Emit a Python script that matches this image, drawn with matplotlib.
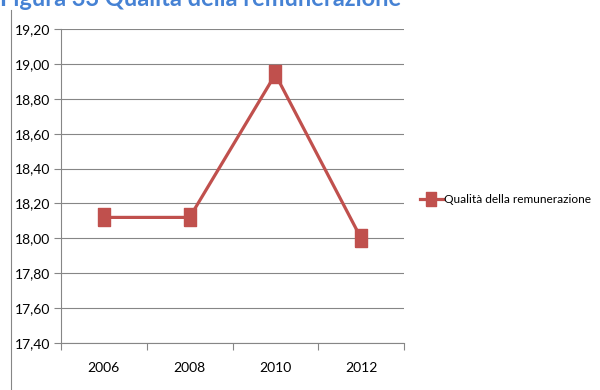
import matplotlib
matplotlib.use('Agg')
import matplotlib.pyplot as plt
from matplotlib.lines import Line2D
from matplotlib.ticker import FixedLocator

# Dati
anni = ['2006', '2008', '2010', '2012']
qualita = [18.12, 18.12, 18.94, 18.00]
tick_y = [17.40, 17.60, 17.80, 18.00, 18.20, 18.40, 18.60, 18.80, 19.00, 19.20]
serie = 'Qualità della remunerazione'
titolo = 'Figura 33 Qualità della remunerazione'

rosso = '#C0504D'
grigio = '#868686'
font_stretto = ['Lato', 'DejaVu Sans']

fig = plt.figure(figsize=(6, 3.9), dpi=100)
ax = fig.add_axes([61 / 600, 1 - 343 / 390, (404 - 61) / 600, (343 - 29) / 390])

# marker rettangolare (più alto che largo)
rett = [(-0.65, -1), (0.65, -1), (0.65, 1), (-0.65, 1), (-0.65, -1)]
x = list(range(len(anni)))
ax.plot(x, qualita, color=rosso, linewidth=2.3, marker=rett, markersize=12.5,
        markeredgecolor=rosso, markerfacecolor=rosso, label=serie, zorder=3)

ax.set_xlim(-0.5, len(anni) - 0.5)
ax.set_ylim(17.40, 19.20)
ax.set_yticks(tick_y)
ax.set_yticklabels([f'{v:.2f}'.replace('.', ',') for v in tick_y], family=font_stretto, fontsize=10)
ax.set_xticks(x)
ax.set_xticklabels(anni, family=font_stretto, fontsize=10)
ax.xaxis.set_minor_locator(FixedLocator([i - 0.5 for i in range(len(anni) + 1)]))
ax.tick_params(axis='x', which='major', length=0, pad=14)
ax.tick_params(axis='x', which='minor', length=5, color=grigio, width=0.8)
ax.tick_params(axis='y', length=5, color=grigio, width=0.8, pad=3)

ax.grid(True, axis='y', color=grigio, linewidth=0.8)
ax.set_axisbelow(True)
for s in ['top', 'right']:
    ax.spines[s].set_visible(False)
for s in ['left', 'bottom']:
    ax.spines[s].set_color(grigio)
    ax.spines[s].set_linewidth(0.8)

# legenda
ax.legend(loc='center left', bbox_to_anchor=(420 / 600, 1 - 200 / 390),
          bbox_transform=fig.transFigure, frameon=False, handlelength=1.9,
          handletextpad=0.1, borderpad=0, borderaxespad=0, markerscale=0.8,
          prop={'family': font_stretto, 'size': 8.6})

# cornice sinistra
fig.add_artist(Line2D([11 / 600, 11 / 600], [0, 1 - 10 / 390], transform=fig.transFigure,
                      color=grigio, linewidth=0.8))

# titolo (tagliato in alto, come nel riferimento)
fig.text(0.0, 1 + 1 / 390, titolo, color='#4682D4', fontsize=17, fontweight='bold',
         family=['Lato', 'DejaVu Sans'], ha='left', va='center')

fig.savefig('out.png', dpi=100)
